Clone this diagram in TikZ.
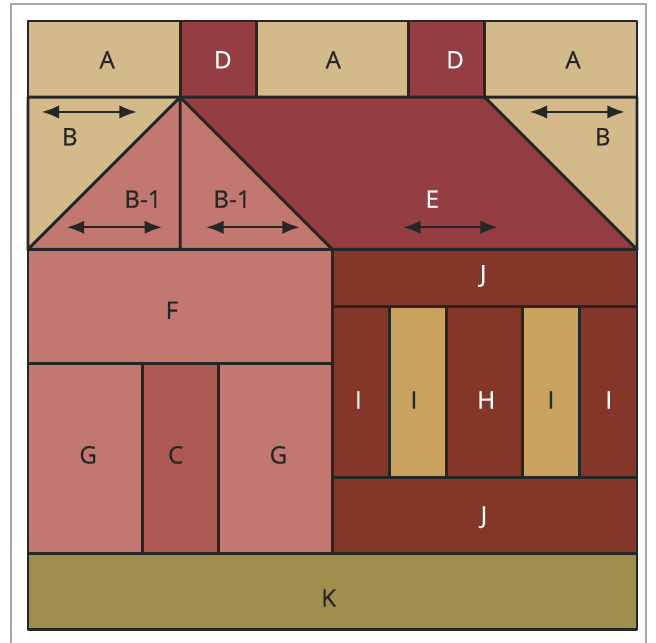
\documentclass[tikz,border=0pt]{standalone}
\usepackage{fontspec}
\setmainfont{Open Sans}
\newfontfamily\lblfont{Open Sans}[FakeBold=0.6]
\usetikzlibrary{arrows.meta}

\definecolor{fabTan}{HTML}{D4B98A}
\definecolor{fabWine}{HTML}{943D42}
\definecolor{fabSalmon}{HTML}{C27870}
\definecolor{fabRose}{HTML}{AB5951}
\definecolor{fabBrown}{HTML}{843629}
\definecolor{fabGold}{HTML}{C8A25E}
\definecolor{fabOlive}{HTML}{A08E4C}

\begin{document}
\begin{tikzpicture}[x=1cm, y=1cm,
    piece/.style={draw=black!85, line width=1.1pt, line join=round},
    lbl/.style={font=\lblfont\fontsize{9}{11}\selectfont, inner sep=0pt},
    lbldark/.style={lbl, text=black!85},
    lbllight/.style={lbl, text=white},
    dblarrow/.style={{Latex[length=6.5pt,width=5pt]}-{Latex[length=6.5pt,width=5pt]},
                     line width=0.8pt, black!85}]

\useasboundingbox (-0.368,0.276) rectangle (8.25,-8.171);
\draw[gray!70, line width=0.6pt] (-0.223,0.223) rectangle (8.118,-8.5);

%% ---- Fila superiore (A / D) ----
\draw[piece, fill=fabTan]  (0,0) rectangle (2,-1);
\draw[piece, fill=fabWine] (2,0) rectangle (3,-1);
\draw[piece, fill=fabTan]  (3,0) rectangle (5,-1);
\draw[piece, fill=fabWine] (5,0) rectangle (6,-1);
\draw[piece, fill=fabTan]  (6,0) rectangle (8,-1);

%% ---- Tetto ----
\draw[piece, fill=fabTan]    (0,-1) -- (2,-1) -- (0,-3) -- cycle;
\draw[piece, fill=fabSalmon] (0,-3) -- (2,-1) -- (2,-3) -- cycle;
\draw[piece, fill=fabSalmon] (2,-1) -- (4,-3) -- (2,-3) -- cycle;
\draw[piece, fill=fabWine]   (2,-1) -- (6,-1) -- (8,-3) -- (4,-3) -- cycle;
\draw[piece, fill=fabTan]    (6,-1) -- (8,-1) -- (8,-3) -- cycle;

%% ---- Facciata (F, G, C) ----
\draw[piece, fill=fabSalmon] (0,-3) rectangle (4,-4.5);
\draw[piece, fill=fabSalmon] (0,-4.5) rectangle (1.5,-7);
\draw[piece, fill=fabRose]   (1.5,-4.5) rectangle (2.5,-7);
\draw[piece, fill=fabSalmon] (2.5,-4.5) rectangle (4,-7);

%% ---- Lato destro (J, I, H) ----
\draw[piece, fill=fabBrown] (4,-3) rectangle (8,-3.75);
\foreach \xa/\xb/\col in {4/4.75/fabBrown, 4.75/5.5/fabGold, 5.5/6.5/fabBrown,
                          6.5/7.25/fabGold, 7.25/8/fabBrown}
  \draw[piece, fill=\col] (\xa,-3.75) rectangle (\xb,-6);
\draw[piece, fill=fabBrown] (4,-6) rectangle (8,-7);

%% ---- Base (K) ----
\draw[piece, fill=fabOlive] (0,-7) rectangle (8,-8);

%% ---- Etichette ----
\node[lbldark]  (a1) at (1.04,-0.51) {A};
\node[lbllight] (d1) at (2.56,-0.51) {D};
\node[lbldark]  (a2) at (4.01,-0.51) {A};
\node[lbllight] (d2) at (5.61,-0.51) {D};
\node[lbldark]  (a3) at (7.16,-0.51) {A};

\node[lbldark]  (bl)  at (0.55,-1.52) {B};
\node[lbldark]  (br)  at (7.55,-1.52) {B};
\node[lbldark]  (b1l) at (1.51,-2.34) {B-1};
\node[lbldark]  (b1r) at (2.68,-2.34) {B-1};
\node[lbllight] (e)   at (5.31,-2.34) {E};

\node[lbldark]  (f)  at (1.89,-3.80) {F};
\node[lbldark]  (g1) at (0.79,-5.70) {G};
\node[lbldark]  (c)  at (1.94,-5.70) {C};
\node[lbldark]  (g2) at (3.29,-5.70) {G};

\node[lbllight] (j1) at (5.98,-3.35) {J};
\node[lbllight] (i1) at (4.34,-4.98) {I};
\node[lbldark]  (i2) at (5.07,-4.98) {I};
\node[lbllight] (h)  at (6.02,-4.98) {H};
\node[lbldark]  (i3) at (6.87,-4.98) {I};
\node[lbllight] (i4) at (7.63,-4.98) {I};
\node[lbllight] (j2) at (5.99,-6.52) {J};

\node[lbldark]  (k)  at (3.95,-7.58) {K};

%% ---- Frecce (drittofilo) ----
\coordinate (bl-w)  at (0.18,-1.195);  \coordinate (bl-e)  at (1.43,-1.195);
\coordinate (br-w)  at (6.59,-1.195);  \coordinate (br-e)  at (7.84,-1.195);
\coordinate (b1l-w) at (0.51,-2.71);   \coordinate (b1l-e) at (1.76,-2.71);
\coordinate (b1r-w) at (2.34,-2.71);   \coordinate (b1r-e) at (3.57,-2.71);
\coordinate (e-w)   at (4.93,-2.71);   \coordinate (e-e)   at (6.17,-2.71);

\draw[dblarrow] (bl-w)  -- (bl-e);
\draw[dblarrow] (br-w)  -- (br-e);
\draw[dblarrow] (b1l-w) -- (b1l-e);
\draw[dblarrow] (b1r-w) -- (b1r-e);
\draw[dblarrow] (e-w)   -- (e-e);

\end{tikzpicture}
\end{document}
